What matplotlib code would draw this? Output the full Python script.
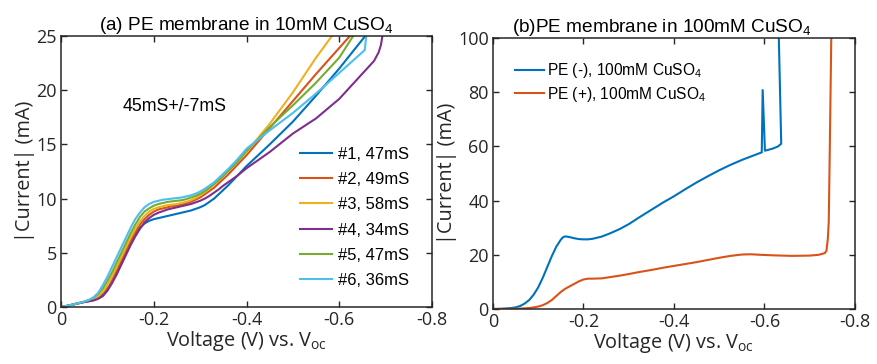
import matplotlib
matplotlib.use("Agg")
import matplotlib.pyplot as plt

plt.rcParams['font.family'] = ['Liberation Sans', 'DejaVu Sans']
plt.rcParams['mathtext.fontset'] = 'custom'
plt.rcParams['mathtext.rm'] = 'Liberation Sans'
plt.rcParams['mathtext.it'] = 'Liberation Sans:italic'
plt.rcParams['mathtext.sf'] = 'Open Sans'

# ---------------- Panel (a): 10 mM CuSO4 ----------------
labels_a = ["#1, 47mS", "#2, 49mS", "#3, 58mS", "#4, 34mS", "#5, 47mS", "#6, 36mS"]
colors_a = ["#0072BD", "#D95319", "#EDB120", "#7E2F8E", "#77AC30", "#4DBEEE"]

v_lo = [0, -0.01, -0.02, -0.03, -0.04, -0.05, -0.06, -0.07, -0.08, -0.09,
        -0.10, -0.11, -0.12, -0.13, -0.14, -0.15, -0.16, -0.17, -0.18, -0.19,
        -0.20, -0.21, -0.22, -0.23, -0.24, -0.25, -0.26, -0.27, -0.28, -0.29,
        -0.30, -0.31, -0.32, -0.33, -0.34, -0.35, -0.36, -0.38, -0.40, -0.45, -0.50]

# 1: blue
v1 = v_lo + [-0.55, -0.60, -0.656]
i1 = [0, 0.08, 0.17, 0.27, 0.37, 0.47, 0.55, 0.65, 0.85, 1.2,
      1.7, 2.4, 3.2, 4.1, 5.0, 5.9, 6.7, 7.3, 7.7, 7.95,
      8.1, 8.2, 8.3, 8.4, 8.5, 8.6, 8.7, 8.8, 8.9, 9.05,
      9.2, 9.4, 9.7, 10.0, 10.4, 10.8, 11.2, 12.1, 13.0, 15.0, 17.1,
      19.5, 22.0, 25.0]
# 2: red
v2 = v_lo + [-0.55, -0.60, -0.623]
i2 = [0, 0.08, 0.17, 0.27, 0.37, 0.47, 0.57, 0.7, 0.9, 1.3,
      1.8, 2.5, 3.4, 4.3, 5.2, 6.1, 6.9, 7.6, 8.1, 8.5,
      8.8, 9.0, 9.1, 9.2, 9.3, 9.35, 9.45, 9.55, 9.7, 9.9,
      10.1, 10.4, 10.7, 11.0, 11.4, 11.8, 12.2, 13.1, 14.0, 16.5, 19.0,
      21.5, 23.9, 25.0]
# 3: yellow
v3 = v_lo + [-0.55, -0.584]
i3 = [0, 0.08, 0.17, 0.27, 0.37, 0.48, 0.6, 0.75, 1.0, 1.4,
      2.0, 2.8, 3.7, 4.6, 5.5, 6.4, 7.2, 7.9, 8.4, 8.8,
      9.05, 9.2, 9.3, 9.4, 9.45, 9.5, 9.6, 9.7, 9.85, 10.05,
      10.3, 10.6, 10.9, 11.3, 11.7, 12.1, 12.6, 13.4, 14.3, 16.9, 19.8,
      23.0, 25.0]
# 4: purple
v4 = v_lo + [-0.55, -0.60, -0.63, -0.66, -0.675, -0.685, -0.69, -0.693]
i4 = [0, 0.08, 0.17, 0.27, 0.36, 0.45, 0.52, 0.6, 0.75, 1.0,
      1.5, 2.2, 3.0, 3.9, 4.8, 5.7, 6.5, 7.2, 7.8, 8.2,
      8.5, 8.7, 8.85, 9.0, 9.1, 9.2, 9.3, 9.4, 9.5, 9.65,
      9.8, 10.0, 10.25, 10.55, 10.85, 11.2, 11.5, 12.1, 12.8, 14.3, 16.0,
      17.4, 19.2, 20.6, 22.0, 22.7, 23.5, 24.2, 25.0]
# 5: green
v5 = v_lo + [-0.55, -0.60, -0.63]
i5 = [0, 0.08, 0.17, 0.27, 0.38, 0.5, 0.63, 0.85, 1.2, 1.7,
      2.4, 3.2, 4.1, 5.0, 5.9, 6.8, 7.6, 8.3, 8.8, 9.1,
      9.35, 9.5, 9.6, 9.7, 9.75, 9.8, 9.85, 9.95, 10.1, 10.25,
      10.45, 10.7, 11.0, 11.35, 11.7, 12.1, 12.5, 13.4, 14.4, 16.6, 18.6,
      20.7, 23.0, 25.0]
# 6: cyan
v6 = v_lo + [-0.55, -0.60, -0.655, -0.658]
i6 = [0, 0.08, 0.17, 0.27, 0.38, 0.5, 0.65, 0.9, 1.3, 2.0,
      2.8, 3.7, 4.6, 5.5, 6.4, 7.3, 8.1, 8.7, 9.2, 9.5,
      9.7, 9.8, 9.9, 9.95, 10.0, 10.05, 10.1, 10.2, 10.3, 10.45,
      10.65, 10.9, 11.2, 11.5, 11.9, 12.3, 12.7, 13.6, 14.6, 16.3, 17.9,
      19.7, 21.6, 23.7, 25.0]

curves_a = [(v1, i1), (v2, i2), (v3, i3), (v4, i4), (v5, i5), (v6, i6)]

# ---------------- Panel (b): 100 mM CuSO4 ----------------
labels_b = [r"PE (-), 100mM CuSO$_4$", r"PE (+), 100mM CuSO$_4$"]
colors_b = ["#0072BD", "#D95319"]

vb_neg = [0, -0.02, -0.04, -0.05, -0.06, -0.07, -0.08, -0.09, -0.10, -0.11,
          -0.12, -0.13, -0.14, -0.15, -0.155, -0.16, -0.17, -0.18, -0.19, -0.20,
          -0.21, -0.22, -0.24, -0.26, -0.28, -0.30, -0.325, -0.35, -0.375, -0.40,
          -0.425, -0.45, -0.475, -0.50, -0.525, -0.55, -0.575, -0.594, -0.596, -0.601,
          -0.61, -0.62, -0.63, -0.637, -0.631]
ib_neg = [0, 0.1, 0.35, 0.6, 1.1, 2.0, 3.3, 5.3, 8.0, 11.5,
          15.5, 19.5, 23.0, 25.6, 26.5, 26.8, 26.5, 26.1, 25.8, 25.7,
          25.7, 25.9, 26.7, 28.0, 29.5, 31.3, 34.0, 36.6, 39.2, 41.6,
          44.2, 46.7, 49.0, 51.2, 53.2, 55.0, 56.6, 57.8, 80.8, 58.4,
          58.8, 59.3, 60.0, 61.0, 105]

vb_pos = [0, -0.04, -0.06, -0.08, -0.09, -0.10, -0.11, -0.12, -0.13, -0.14,
          -0.15, -0.16, -0.17, -0.18, -0.19, -0.20, -0.21, -0.22, -0.24, -0.26,
          -0.28, -0.30, -0.325, -0.35, -0.375, -0.40, -0.425, -0.45, -0.475, -0.50,
          -0.525, -0.55, -0.57, -0.59, -0.62, -0.66, -0.70, -0.72, -0.733, -0.737,
          -0.740, -0.742, -0.744, -0.748]
ib_pos = [0, 0.05, 0.15, 0.35, 0.6, 0.9, 1.4, 2.2, 3.3, 4.8,
          6.3, 7.5, 8.4, 9.3, 10.2, 10.9, 11.2, 11.2, 11.3, 11.8,
          12.3, 12.9, 13.7, 14.4, 15.2, 15.9, 16.6, 17.3, 18.1, 18.9,
          19.6, 20.1, 20.2, 20.0, 19.8, 19.6, 19.7, 20.0, 20.6, 21.5,
          26.0, 32.0, 55.0, 105]

curves_b = [(vb_neg, ib_neg), (vb_pos, ib_pos)]

xticks = [0, -0.2, -0.4, -0.6, -0.8]
xticklabels = ["0", "-0.2", "-0.4", "-0.6", "-0.8"]
yticks_a = [0, 5, 10, 15, 20, 25]
yticks_b = [0, 20, 40, 60, 80, 100]

fig = plt.figure(figsize=(8.77, 3.64), dpi=100)
ax1 = fig.add_axes([0.0696, 0.1566, 0.423, 0.7445])
ax2 = fig.add_axes([0.5621, 0.1511, 0.4128, 0.7445])

axc = "#262626"
osans = ['Open Sans', 'DejaVu Sans']


def style(ax, yticks):
    ax.set_xlim(0, -0.8)
    ax.set_xticks(xticks)
    ax.set_xticklabels(xticklabels)
    ax.set_yticks(yticks)
    ax.set_yticklabels([str(t) for t in yticks])
    ax.tick_params(direction='in', top=True, right=True, length=4, width=1,
                   labelsize=13, colors=axc, pad=3)
    for lab in ax.get_xticklabels() + ax.get_yticklabels():
        lab.set_fontfamily(osans)
    for s in ax.spines.values():
        s.set_color(axc)
        s.set_linewidth(1.1)
    ax.set_xlabel(r"Voltage (V) vs. V$_{\mathsf{oc}}$", fontsize=14.3, color=axc, labelpad=0,
                  family=osans)
    ax.set_ylabel("|Current| (mA)", fontsize=14.3, color=axc, labelpad=1, family=osans)


for (v, i), c, lab in zip(curves_a, colors_a, labels_a):
    ax1.plot(v, i, color=c, lw=1.5, label=lab)
ax1.set_ylim(0, 25)
style(ax1, yticks_a)
ax1.set_title(r"(a) PE membrane in 10mM CuSO$_4$", fontsize=13.7, pad=4)
ax1.text(-0.133, 18.5, "45mS+/-7mS", fontsize=12.8, va='center', ha='left')
ax1.legend(loc='upper left', bbox_to_anchor=(0.645, 0.592), frameon=False, fontsize=12,
           handlelength=1.9, handletextpad=0.35, labelspacing=0.62, borderpad=0, borderaxespad=0)

for (v, i), c, lab in zip(curves_b, colors_b, labels_b):
    ax2.plot(v, i, color=c, lw=1.5, label=lab)
ax2.set_ylim(0, 100)
style(ax2, yticks_b)
ax2.set_title(r"(b)PE membrane in 100mM CuSO$_4$", fontsize=13.7, pad=4, x=0.465)
ax2.legend(loc='upper left', bbox_to_anchor=(0.06, 0.915), frameon=False, fontsize=11.2,
           handlelength=1.9, handletextpad=0.15, labelspacing=0.3, borderpad=0, borderaxespad=0)

fig.savefig("out.png", dpi=100)
